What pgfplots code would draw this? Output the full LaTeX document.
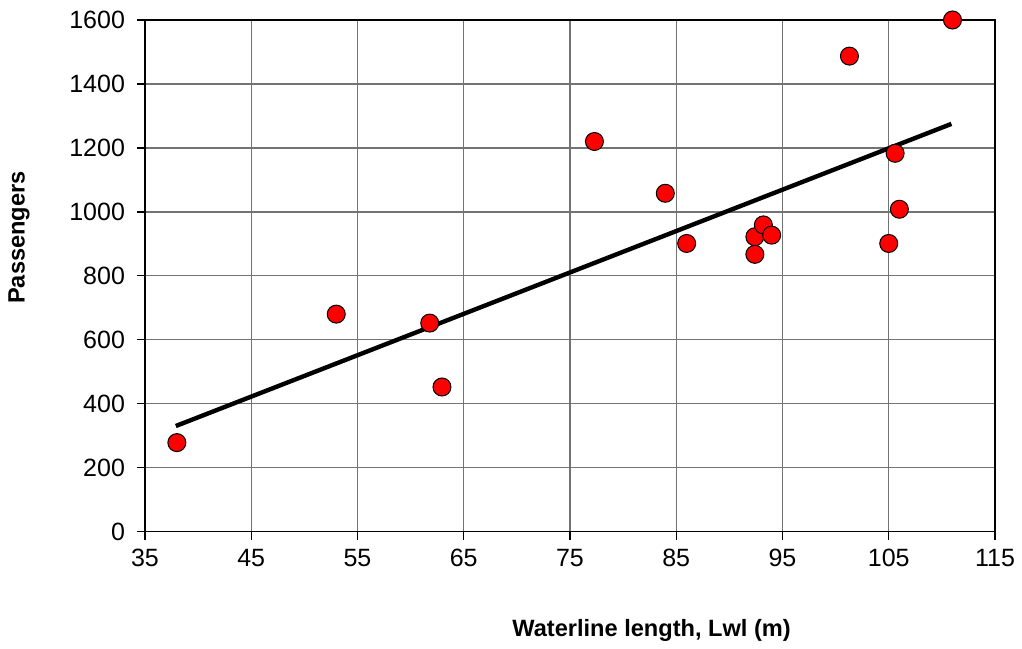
\documentclass[border=0pt]{standalone}
\usepackage{fontspec}
\setmainfont{Liberation Sans}
\usepackage{pgfplots}
\pgfplotsset{compat=1.18}
\begin{document}
\begin{tikzpicture}
\begin{axis}[
  scale only axis,
  width=425bp, height=255.75bp,
  xmin=35, xmax=115, ymin=0, ymax=1600,
  xtick={35,45,...,115},
  ytick={0,200,...,1600},
  xtick pos=lower, ytick pos=left,
  grid=major,
  major grid style={black!55, line width=0.7bp},
  axis line style={black, line width=0.9bp},
  tick align=outside,
  major tick length=4bp,
  tick style={black, line width=0.7bp},
  tick label style={font=\fontsize{12.5bp}{15bp}\selectfont},
  yticklabel style={xshift=-2.5bp},
  xticklabel style={yshift=-1.5bp},
  /pgf/number format/assume math mode=true,
  /pgf/number format/1000 sep={},
  xlabel={\textbf{Waterline length, Lwl (m)}},
  ylabel={\textbf{Passengers}},
  label style={font=\fontsize{11.8bp}{14bp}\selectfont},
  xlabel style={at={(axis description cs:0.596,-0.1926)}, anchor=center},
  ylabel style={at={(axis description cs:-0.1482,0.5748)}, anchor=center, rotate=0},
  clip=false,
]
\addplot[black, line width=2.2bp] coordinates {(37.9,330) (110.9,1275)};
\addplot[only marks, mark=*, mark size=4.5bp, mark options={fill=red, draw=black, line width=0.5bp}] coordinates {
(38,278) (53,680) (61.8,652) (62.95,452) (77.3,1220) (83.97,1058) (85.98,901)
(92.4,922) (92.4,867) (93.2,959) (93.98,927) (101.3,1487) (105.0,901)
(105.6,1183) (106.0,1008) (111.0,1600)
};
\end{axis}
\pgfresetboundingbox
\path (-72.5bp,-58.75bp) rectangle (438.5bp,265.75bp);
\end{tikzpicture}
\end{document}
